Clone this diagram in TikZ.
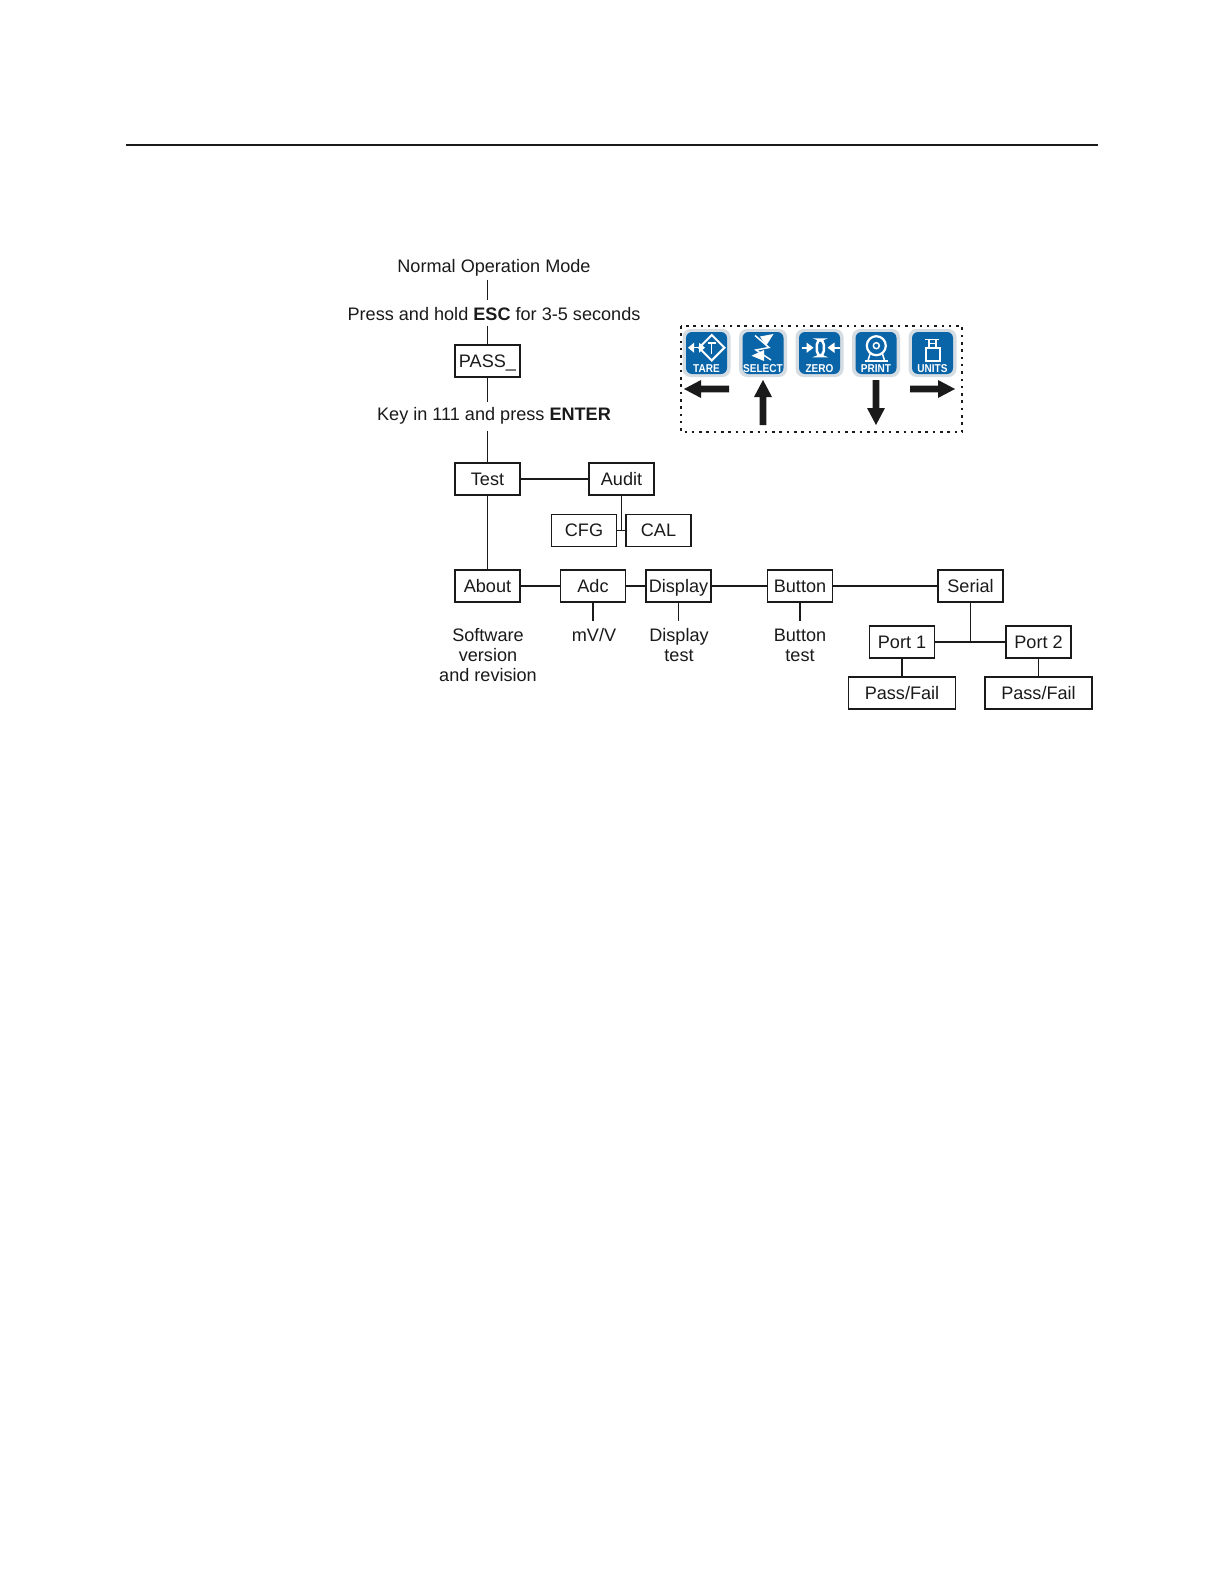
\documentclass[tikz,border=0pt]{standalone}
\usepackage{fontspec}
\usetikzlibrary{calc}
\setmainfont{Liberation Sans}
\definecolor{ink}{HTML}{1A1A1A}
\definecolor{keyblue}{HTML}{0A64A8}
\definecolor{keyrim}{HTML}{D5DCE2}
\tikzset{
  boxn/.style={draw=ink,line width=0.72pt,minimum width=32.5pt,minimum height=16.2pt,inner sep=0pt,text=ink,text height=6.6pt,text depth=0.4pt,font=\fontsize{9.05}{11}\selectfont},
  widebox/.style={boxn,minimum width=53.5pt},
  lab/.style={inner sep=0pt,text=ink,align=center,font=\fontsize{9.05}{10}\selectfont},
  link/.style={draw=ink,line width=0.55pt},
  heavylink/.style={draw=ink,line width=0.95pt},
  rim/.style={fill=keyrim,rounded corners=4pt,draw=none},
  keyface/.style={fill=keyblue,rounded corners=3pt,draw=none},
  keytext/.style={inner sep=0pt,text=white,font=\fontsize{5.7}{6}\selectfont\bfseries},
  glyph/.style={draw=white,line width=1pt},
  thinglyph/.style={draw=white,line width=0.75pt},
  glyphfill/.style={fill=white,draw=none},
  bigarrow/.style={fill=ink,draw=none},
  dotframe/.style={draw=ink,line width=1.4pt,dash pattern=on 1.25pt off 2.4pt}
}
\newcommand{\keycap}[3]{%
  \fill[rim] (#1-24,#2-24) rectangle (#1+24,#2+24);
  \fill[keyface] (#1-20.5,#2-21) rectangle (#1+20.5,#2+21);
  \node[keytext,xscale=.88] at (#1,#2+15.5) {#3};}
\begin{document}
\begin{tikzpicture}[x=0.5pt,y=-0.5pt]
\useasboundingbox (0,0) rectangle (1224,1584);
\fill[white] (0,0) rectangle (1224,1584);
\draw[ink,line width=1pt] (126,144.5) -- (1098,144.5);

% dotted key frame
\draw[dotframe] (681,326) rectangle (962,432);

% keys
\keycap{706.5}{353}{TARE}
\keycap{763}{353}{SELECT}
\keycap{819.5}{353}{ZERO}
\keycap{876}{353}{PRINT}
\keycap{932.5}{353}{UNITS}

% TARE glyph
\draw[thinglyph] (691,347.7) -- (702,347.7);
\fill[glyphfill] (688,347.7) -- (694,342.7) -- (694,352.7) -- cycle;
\fill[glyphfill] (705,347.7) -- (699,342.7) -- (699,352.7) -- cycle;
\draw[glyph] (711.7,335) -- (724.4,347.7) -- (711.7,360.4) -- (699,347.7) -- cycle;
\draw[thinglyph] (707.5,343) -- (716,343) (711.7,343) -- (711.7,353.5);

% SELECT glyph
\fill[glyphfill] (760,336.5) -- (773.5,334) -- (766,346) -- cycle;
\fill[glyphfill] (751.5,355.7) -- (764,350) -- (764,361) -- cycle;
\draw[thinglyph] (755,335.5) -- (769,347.5) -- (756,350) -- (771,360);

% ZERO glyph
\draw[glyph] (801.5,347.7) -- (808,347.7);
\fill[glyphfill] (813.5,347.7) -- (806.5,342.5) -- (806.5,352.9) -- cycle;
\draw[glyph] (839.5,347.7) -- (833,347.7);
\fill[glyphfill] (827.5,347.7) -- (834.5,342.5) -- (834.5,352.9) -- cycle;
\draw[white,line width=1.25pt,rounded corners=2.5pt] (816.8,339.5) rectangle (823.8,356);

% PRINT glyph
\draw[white,line width=1.1pt] (876.3,345.7) circle[radius=9.5];
\draw[thinglyph] (876.3,345.7) circle[radius=3];
\draw[glyph] (864.5,360.5) -- (888,360.5);
\draw[thinglyph] (868,360.5) -- (870,354) (884.5,360.5) -- (882.5,354);

% UNITS glyph
\draw[thinglyph] (925,339.5) -- (939,339.5) (929,339.5) -- (929,348) (936,339.5) -- (936,348) (929.5,343.5) -- (935.5,343.5);
\draw[glyph] (925.5,348) rectangle (939.5,360.5);

% big arrows
\fill[bigarrow] (684,389) -- (701,380) -- (701,385.7) -- (729,385.7) -- (729,392.3) -- (701,392.3) -- (701,398) -- cycle;
\fill[bigarrow] (763,380) -- (772,397) -- (766.3,397) -- (766.3,425) -- (759.7,425) -- (759.7,397) -- (754,397) -- cycle;
\fill[bigarrow] (876,425) -- (867,408) -- (872.7,408) -- (872.7,380) -- (879.3,380) -- (879.3,408) -- (885,408) -- cycle;
\fill[bigarrow] (955,389) -- (938,380) -- (938,385.7) -- (910,385.7) -- (910,392.3) -- (938,392.3) -- (938,398) -- cycle;

% nodes
\node[lab] (nm) at (494,268) {Normal Operation Mode};
\node[lab] (esc) at (494,314.5) {Press and hold \textbf{ESC} for 3-5 seconds};
\node[boxn] (pass) at (487.5,361) {PASS\_};
\node[lab] (key) at (494,416) {Key in 111 and press \textbf{ENTER}};
\node[boxn] (test) at (487.5,479) {Test};
\node[boxn] (audit) at (621.5,479) {Audit};
\node[boxn] (cfg) at (584,530.5) {CFG};
\node[boxn] (cal) at (658.5,530.5) {CAL};
\node[boxn] (about) at (487.5,586) {About};
\node[boxn] (adc) at (593,586) {Adc};
\node[boxn] (disp) at (678.5,586) {Display};
\node[boxn] (btn) at (800,586) {Button};
\node[boxn] (serial) at (970.5,586) {Serial};
\node[boxn] (p1) at (902,642) {Port 1};
\node[boxn] (p2) at (1038.5,642) {Port 2};
\node[widebox] (pf1) at (902,693) {Pass/Fail};
\node[widebox] (pf2) at (1038.5,693) {Pass/Fail};
\node[lab] (sw) at (488,655) {Software\\version\\and revision};
\node[lab] (mv) at (594,635) {mV/V};
\node[lab] (dt) at (679,645) {Display\\test};
\node[lab] (bt) at (800,645) {Button\\test};
\coordinate (jaudit) at (audit.south |- cfg.east);
\coordinate (jserial) at (serial.south |- p1.east);

% connectors
\draw[link] ($(pass.north |- nm.south)+(0,3)$) -- ($(pass.north |- esc.north)+(0,-7)$);
\draw[link] ($(pass.north |- esc.south)+(0,4)$) -- (pass.north);
\draw[link] (pass.south) -- ($(pass.south |- key.north)+(0,-5)$);
\draw[link] ($(test.north |- key.south)+(0,6)$) -- (test.north);
\draw[link] (test.east) -- (audit.west);
\draw[link] (test.south) -- (about.north);
\draw[link] (audit.south) -- (jaudit);
\draw[link] (cfg.east) -- (cal.west);
\draw[link] (about.east) -- (adc.west);
\draw[link] (adc.east) -- (disp.west);
\draw[link] (disp.east) -- (btn.west);
\draw[link] (btn.east) -- (serial.west);
\draw[link] (adc.south) -- ($(adc.south |- mv.north)+(0,-7)$);
\draw[link] (disp.south) -- ($(disp.south |- dt.north)+(0,-7)$);
\draw[heavylink] (btn.south) -- ($(btn.south |- bt.north)+(0,-7)$);
\draw[link] (serial.south) -- (jserial);
\draw[link] (p1.east) -- (p2.west);
\draw[heavylink] (p1.south) -- (pf1.north);
\draw[link] (p2.south) -- (pf2.north);
\end{tikzpicture}
\end{document}
